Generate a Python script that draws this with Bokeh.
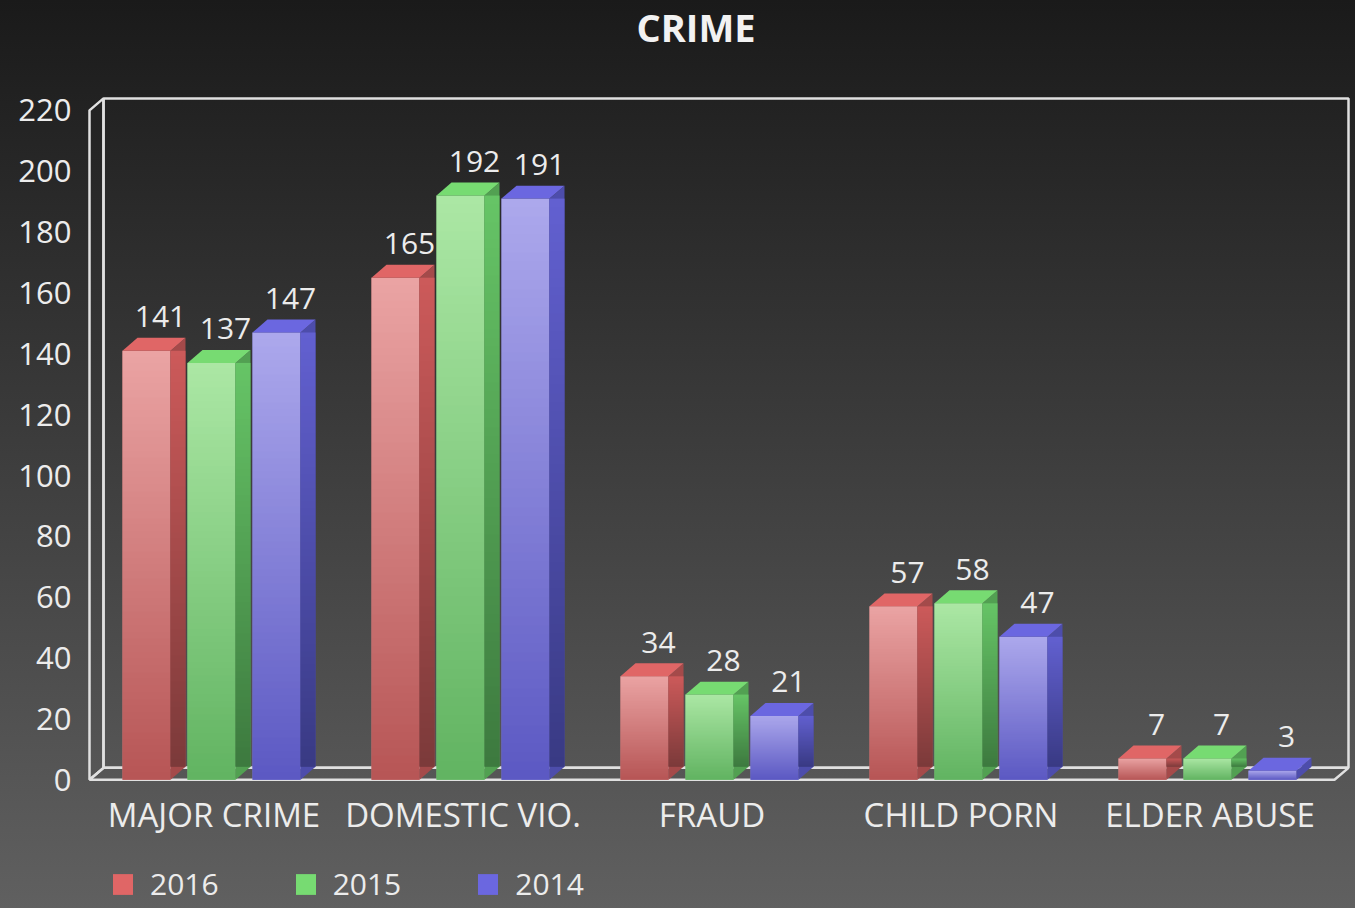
import numpy as np
from bokeh.plotting import figure
from bokeh.models import FixedTicker, Legend, LegendItem
from bokeh.core.properties import value
from bokeh.embed import file_html
from bokeh.resources import INLINE

# ---------------- data ----------------
categories = ["MAJOR CRIME", "DOMESTIC VIO.", "FRAUD", "CHILD PORN", "ELDER ABUSE"]
years = ["2016", "2015", "2014"]
v2016 = [141, 165, 34, 57, 7]
v2015 = [137, 192, 28, 58, 7]
v2014 = [147, 191, 21, 47, 3]
yticks = [0, 20, 40, 60, 80, 100, 120, 140, 160, 180, 200, 220]
series = [v2016, v2015, v2014]

# ---------------- styles ----------------
FONT = "Open Sans"
TXT = "#ececec"
front_top = ["#eaa3a3", "#abe7a4", "#aca8ec"]
front_bot = ["#b75656", "#62b462", "#5c59c3"]
front_cols = ["#d27c7c", "#82cd7e", "#8280d8"]
side_top = ["#cc5a5a", "#66c466", "#6260d0"]
side_bot = ["#7c3a3a", "#3d7a3f", "#393a84"]
side_cols = ["#a44a4a", "#52a052", "#4d4dab"]
top_cols = ["#e06666", "#77db72", "#6b67e0"]

W, H = 1355, 908
REF_X0 = 89                  # front-left edge of floor (x = 0)
CAT_PX = 249                 # pixels per category
REF_Y0 = 779                 # value 0
K = (779 - 108) / 220.0      # pixels per value unit
FL, FT, FB, FR = 87, 52, H, W   # frame left/top/bottom/right (px)

x_start = (FL - REF_X0) / CAT_PX
x_end = (FR - REF_X0) / CAT_PX
y_end = (REF_Y0 - FT) / K
y_start = -(FB - REF_Y0) / K

BAR_OFF = [-91.5 / CAT_PX, -26.5 / CAT_PX, 38.5 / CAT_PX]
BW = 48 / CAT_PX
BDX, BDY = 15 / CAT_PX, 13 / K     # bar depth
WDX, WDY = 14 / CAT_PX, 12 / K     # wall depth

p = figure(width=W, height=H, x_range=(x_start, x_end), y_range=(y_start, y_end),
           output_backend="svg", toolbar_location=None,
           min_border_left=FL, min_border_top=FT,
           min_border_right=W - FR, min_border_bottom=H - FB)
p.styles = {"background": "linear-gradient(180deg, #1a1a1a 0%, #606060 100%)"}
p.background_fill_alpha = 0
p.border_fill_alpha = 0
p.outline_line_color = None
p.grid.visible = False
p.xaxis.visible = False

# title
p.title.text = "CRIME"
p.title.align = "left"
p.title.offset = 549
p.title.standoff = 0
p.title.vertical_align = "top"
p.title.text_font = FONT
p.title.text_font_size = "38px"
p.title.text_font_style = "bold"
p.title.text_color = "#f2f2f2"

# y axis
ya = p.yaxis[0]
ya.ticker = FixedTicker(ticks=yticks)
ya.axis_line_color = None
ya.major_tick_line_color = None
ya.minor_tick_line_color = None
ya.major_tick_out = 0
ya.major_tick_in = 0
ya.major_label_text_font = FONT
ya.major_label_text_font_size = "31px"
ya.major_label_text_color = TXT
ya.major_label_standoff = 16

# category labels under the floor
n = len(categories)
p.text(x=[i + 0.5 for i in range(n)], y=[0] * n, text=categories, y_offset=35,
       text_align="center", text_baseline="alphabetic",
       text_font=value(FONT), text_font_size="33px", text_color=TXT)

# 3D frame (walls + floor)
ymax = yticks[-1]
wall_col = "#e0e0e0"
p.patch([0 + WDX, n + WDX, n + WDX, 0 + WDX], [WDY, WDY, ymax + WDY, ymax + WDY],
        fill_alpha=0, line_color=wall_col, line_width=2.5)
p.patch([0, 0, WDX, WDX], [0, ymax, ymax + WDY, WDY],
        fill_alpha=0, line_color=wall_col, line_width=2.5)
p.patch([0, n, n + WDX, WDX], [0, 0, WDY, WDY],
        fill_alpha=0, line_color=wall_col, line_width=2.5)


def hex2rgb(h):
    return [int(h[i:i + 2], 16) for i in (1, 3, 5)]


def grad_image(c_bot, c_top, rows=64):
    img = np.empty((rows, 1), dtype=np.uint32)
    view = img.view(dtype=np.uint8).reshape((rows, 1, 4))
    b, t = np.array(hex2rgb(c_bot)), np.array(hex2rgb(c_top))
    for r in range(rows):
        f = r / (rows - 1)
        view[r, 0, :3] = np.round(b + (t - b) * f).astype(np.uint8)
        view[r, 0, 3] = 255
    return img


# bars
top_renderers = []
for j, vals in enumerate(series):
    lefts = [i + 0.5 + BAR_OFF[j] for i in range(n)]
    rights = [l + BW for l in lefts]
    # front faces
    p.quad(left=lefts, right=rights, bottom=[0] * n, top=vals,
           fill_color=front_cols[j], line_color=None)
    g = grad_image(front_bot[j], front_top[j])
    p.image_rgba(image=[g] * n, x=lefts, y=[0] * n, dw=[BW] * n, dh=vals)
    # side faces
    p.patches([[r, r + BDX, r + BDX, r] for r in rights],
              [[0, BDY, v + BDY, v] for v in vals],
              fill_color=side_cols[j], line_color=None)
    gs = grad_image(side_bot[j], side_top[j])
    tall = [(r, v) for r, v in zip(rights, vals) if v > BDY]
    p.image_rgba(image=[gs] * len(tall), x=[r for r, v in tall], y=[BDY] * len(tall),
                 dw=[BDX] * len(tall), dh=[v - BDY for r, v in tall])
    # top faces
    tr = p.patches([[l, r, r + BDX, l + BDX] for l, r in zip(lefts, rights)],
                   [[v, v, v + BDY, v + BDY] for v in vals],
                   fill_color=top_cols[j], line_color=None)
    top_renderers.append(tr)
    # value labels
    p.text(x=[(l + r) / 2 for l, r in zip(lefts, rights)], y=[v + BDY for v in vals],
           text=[str(v) for v in vals], x_offset=14, y_offset=-21,
           text_align="center", text_baseline="alphabetic",
           text_font=value(FONT), text_font_size="30px", text_color=TXT)

legend = Legend(items=[LegendItem(label=y, renderers=[r]) for y, r in zip(years, top_renderers)],
                orientation="horizontal", location=(23, 4),
                background_fill_alpha=0, border_line_alpha=0,
                label_text_color=TXT, label_text_font=FONT, label_text_font_size="30px",
                glyph_width=25, glyph_height=26, label_standoff=15, spacing=74,
                padding=0, margin=0)
p.add_layout(legend)

open("out.html", "w").write(file_html(p, INLINE))
